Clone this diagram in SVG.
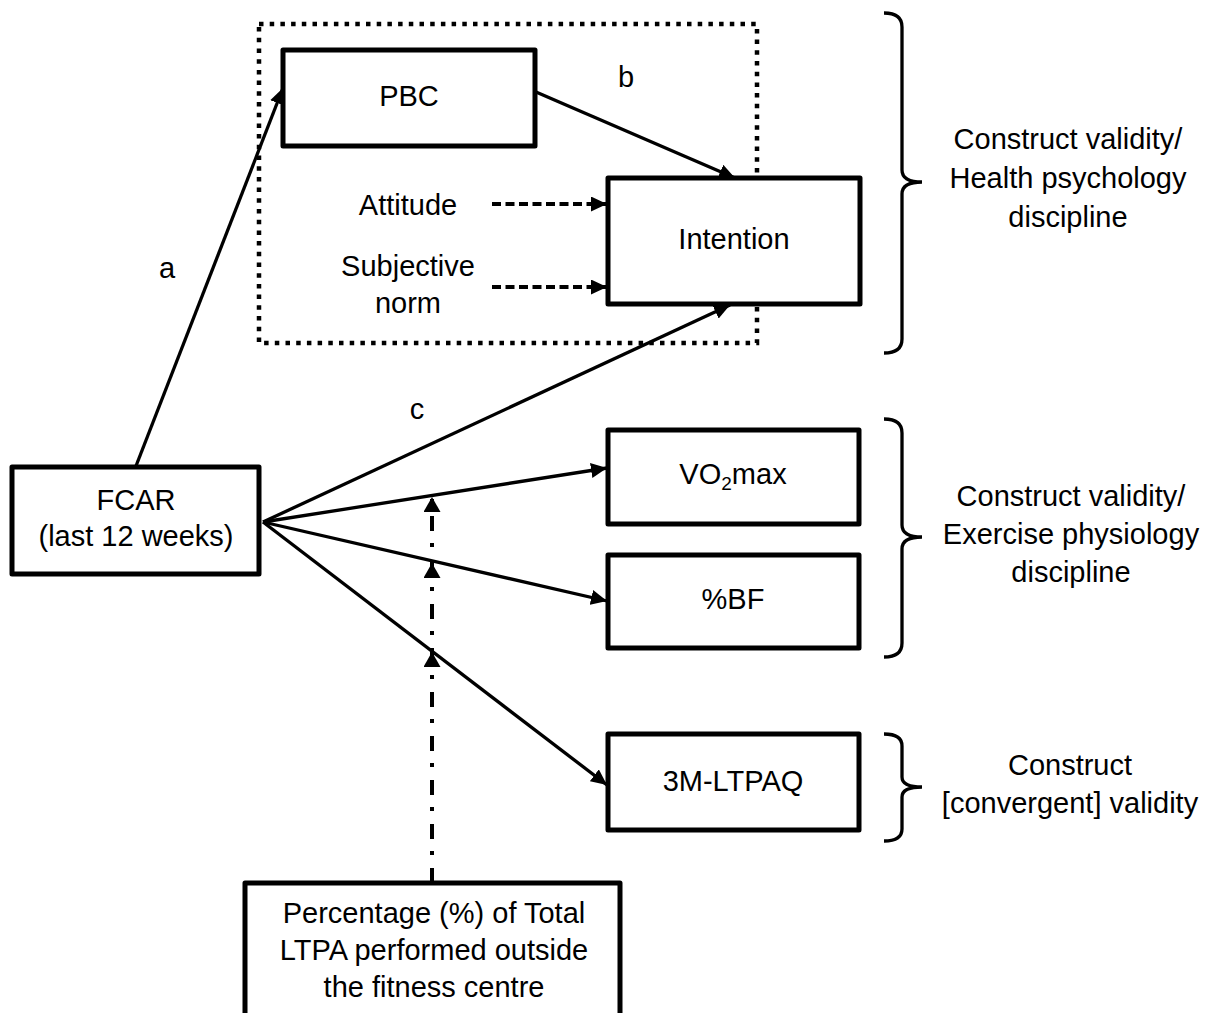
<svg xmlns="http://www.w3.org/2000/svg" width="1212" height="1013" viewBox="0 0 1212 1013">
  <style>
    text { font-family: "Liberation Sans", Arial, sans-serif; font-size: 29px; fill: #000; text-anchor: middle; }
    .box { fill: #fff; stroke: #000; stroke-width: 5; stroke-linejoin: round; }
    .solid { fill: none; stroke: #000; stroke-width: 3.3; }
    .dash { fill: none; stroke: #000; stroke-width: 4; stroke-dasharray: 9 4.5; }
    .dashdot { fill: none; stroke: #000; stroke-width: 4; stroke-dasharray: 15 13 4 12; }
    .brace { fill: none; stroke: #000; stroke-width: 3.3; }
    .group { fill: none; stroke: #000; stroke-width: 4.5; stroke-dasharray: 4.5 6.2; }
  </style>
  <defs>
    <marker id="arrow" markerUnits="userSpaceOnUse" markerWidth="17" markerHeight="15" refX="16" refY="7.5" orient="auto">
      <path d="M0,0 L16,7.5 L0,15 z" fill="#000"/>
    </marker>
    <marker id="arrow-mod" markerUnits="userSpaceOnUse" markerWidth="16" markerHeight="17" refX="15" refY="8.5" orient="auto">
      <path d="M0,0 L15,8.5 L0,17 z" fill="#000"/>
    </marker>
  </defs>

  <!-- TPB cluster outline -->
  <rect id="tpb-group" class="group" x="259" y="24" width="498" height="319"/>

  <!-- connectors -->
  <g id="connectors">
    <line class="solid" x1="136" y1="466" x2="283" y2="88" marker-end="url(#arrow)"/>
    <line class="solid" x1="536" y1="92" x2="735" y2="178" marker-end="url(#arrow)"/>
    <line class="dash" x1="492" y1="204" x2="607" y2="204" marker-end="url(#arrow)"/>
    <line class="dash" x1="492" y1="287" x2="607" y2="287" marker-end="url(#arrow)"/>
    <line class="solid" x1="263" y1="522" x2="730" y2="305" marker-end="url(#arrow)"/>
    <line class="solid" x1="263" y1="522" x2="607" y2="468" marker-end="url(#arrow)"/>
    <line class="solid" x1="263" y1="522" x2="607" y2="601" marker-end="url(#arrow)"/>
    <line class="solid" x1="263" y1="522" x2="607" y2="785" marker-end="url(#arrow)"/>
    <!-- moderator paths -->
    <line class="dashdot" x1="432" y1="883" x2="432" y2="652" marker-end="url(#arrow-mod)"/>
    <line class="dashdot" x1="432" y1="883" x2="432" y2="563" marker-end="url(#arrow-mod)"/>
    <line class="dashdot" x1="432" y1="883" x2="432" y2="497" marker-end="url(#arrow-mod)"/>
  </g>

  <!-- path labels -->
  <g id="path-labels">
    <text x="167" y="278">a</text>
    <text x="626" y="87">b</text>
    <text x="417" y="419">c</text>
  </g>

  <g id="fcar">
    <rect class="box" x="12" y="467" width="247" height="107"/>
    <text x="136" y="510">FCAR</text>
    <text x="136" y="546">(last 12 weeks)</text>
  </g>

  <g id="pbc">
    <rect class="box" x="283" y="50" width="252" height="96"/>
    <text x="409" y="106">PBC</text>
  </g>

  <g id="attitude">
    <text x="408" y="215">Attitude</text>
  </g>

  <g id="subjective-norm">
    <text x="408" y="276">Subjective</text>
    <text x="408" y="313">norm</text>
  </g>

  <g id="intention">
    <rect class="box" x="608" y="178" width="252" height="126"/>
    <text x="734" y="249">Intention</text>
  </g>

  <g id="vo2max">
    <rect class="box" x="608" y="430" width="251" height="94"/>
    <text x="733" y="484">VO<tspan font-size="19" dy="6">2</tspan><tspan dy="-6">max</tspan></text>
  </g>

  <g id="bf">
    <rect class="box" x="608" y="555" width="251" height="93"/>
    <text x="733" y="609">%BF</text>
  </g>

  <g id="ltpaq">
    <rect class="box" x="608" y="734" width="251" height="96"/>
    <text x="733" y="791">3M-LTPAQ</text>
  </g>

  <g id="outside-ltpa">
    <rect class="box" x="245" y="883" width="375" height="140"/>
    <text x="434" y="923">Percentage (%) of Total</text>
    <text x="434" y="960">LTPA performed outside</text>
    <text x="434" y="997">the fitness centre</text>
  </g>

  <!-- validity braces -->
  <g id="brace-health">
    <path class="brace" d="M884,13 Q902,13 902,27 V170 Q902,182 922,182 Q902,182 902,194 V339 Q902,353 884,353"/>
    <text x="1068" y="149">Construct validity/</text>
    <text x="1068" y="188">Health psychology</text>
    <text x="1068" y="227">discipline</text>
  </g>

  <g id="brace-physiology">
    <path class="brace" d="M884,419 Q902,419 902,433 V525 Q902,537 922,537 Q902,537 902,549 V643 Q902,657 884,657"/>
    <text x="1071" y="506">Construct validity/</text>
    <text x="1071" y="544">Exercise physiology</text>
    <text x="1071" y="582">discipline</text>
  </g>

  <g id="brace-convergent">
    <path class="brace" d="M884,734 Q902,734 902,746 V777 Q902,787 922,787 Q902,787 902,797 V829 Q902,841 884,841"/>
    <text x="1070" y="775">Construct</text>
    <text x="1070" y="813">[convergent] validity</text>
  </g>
</svg>
